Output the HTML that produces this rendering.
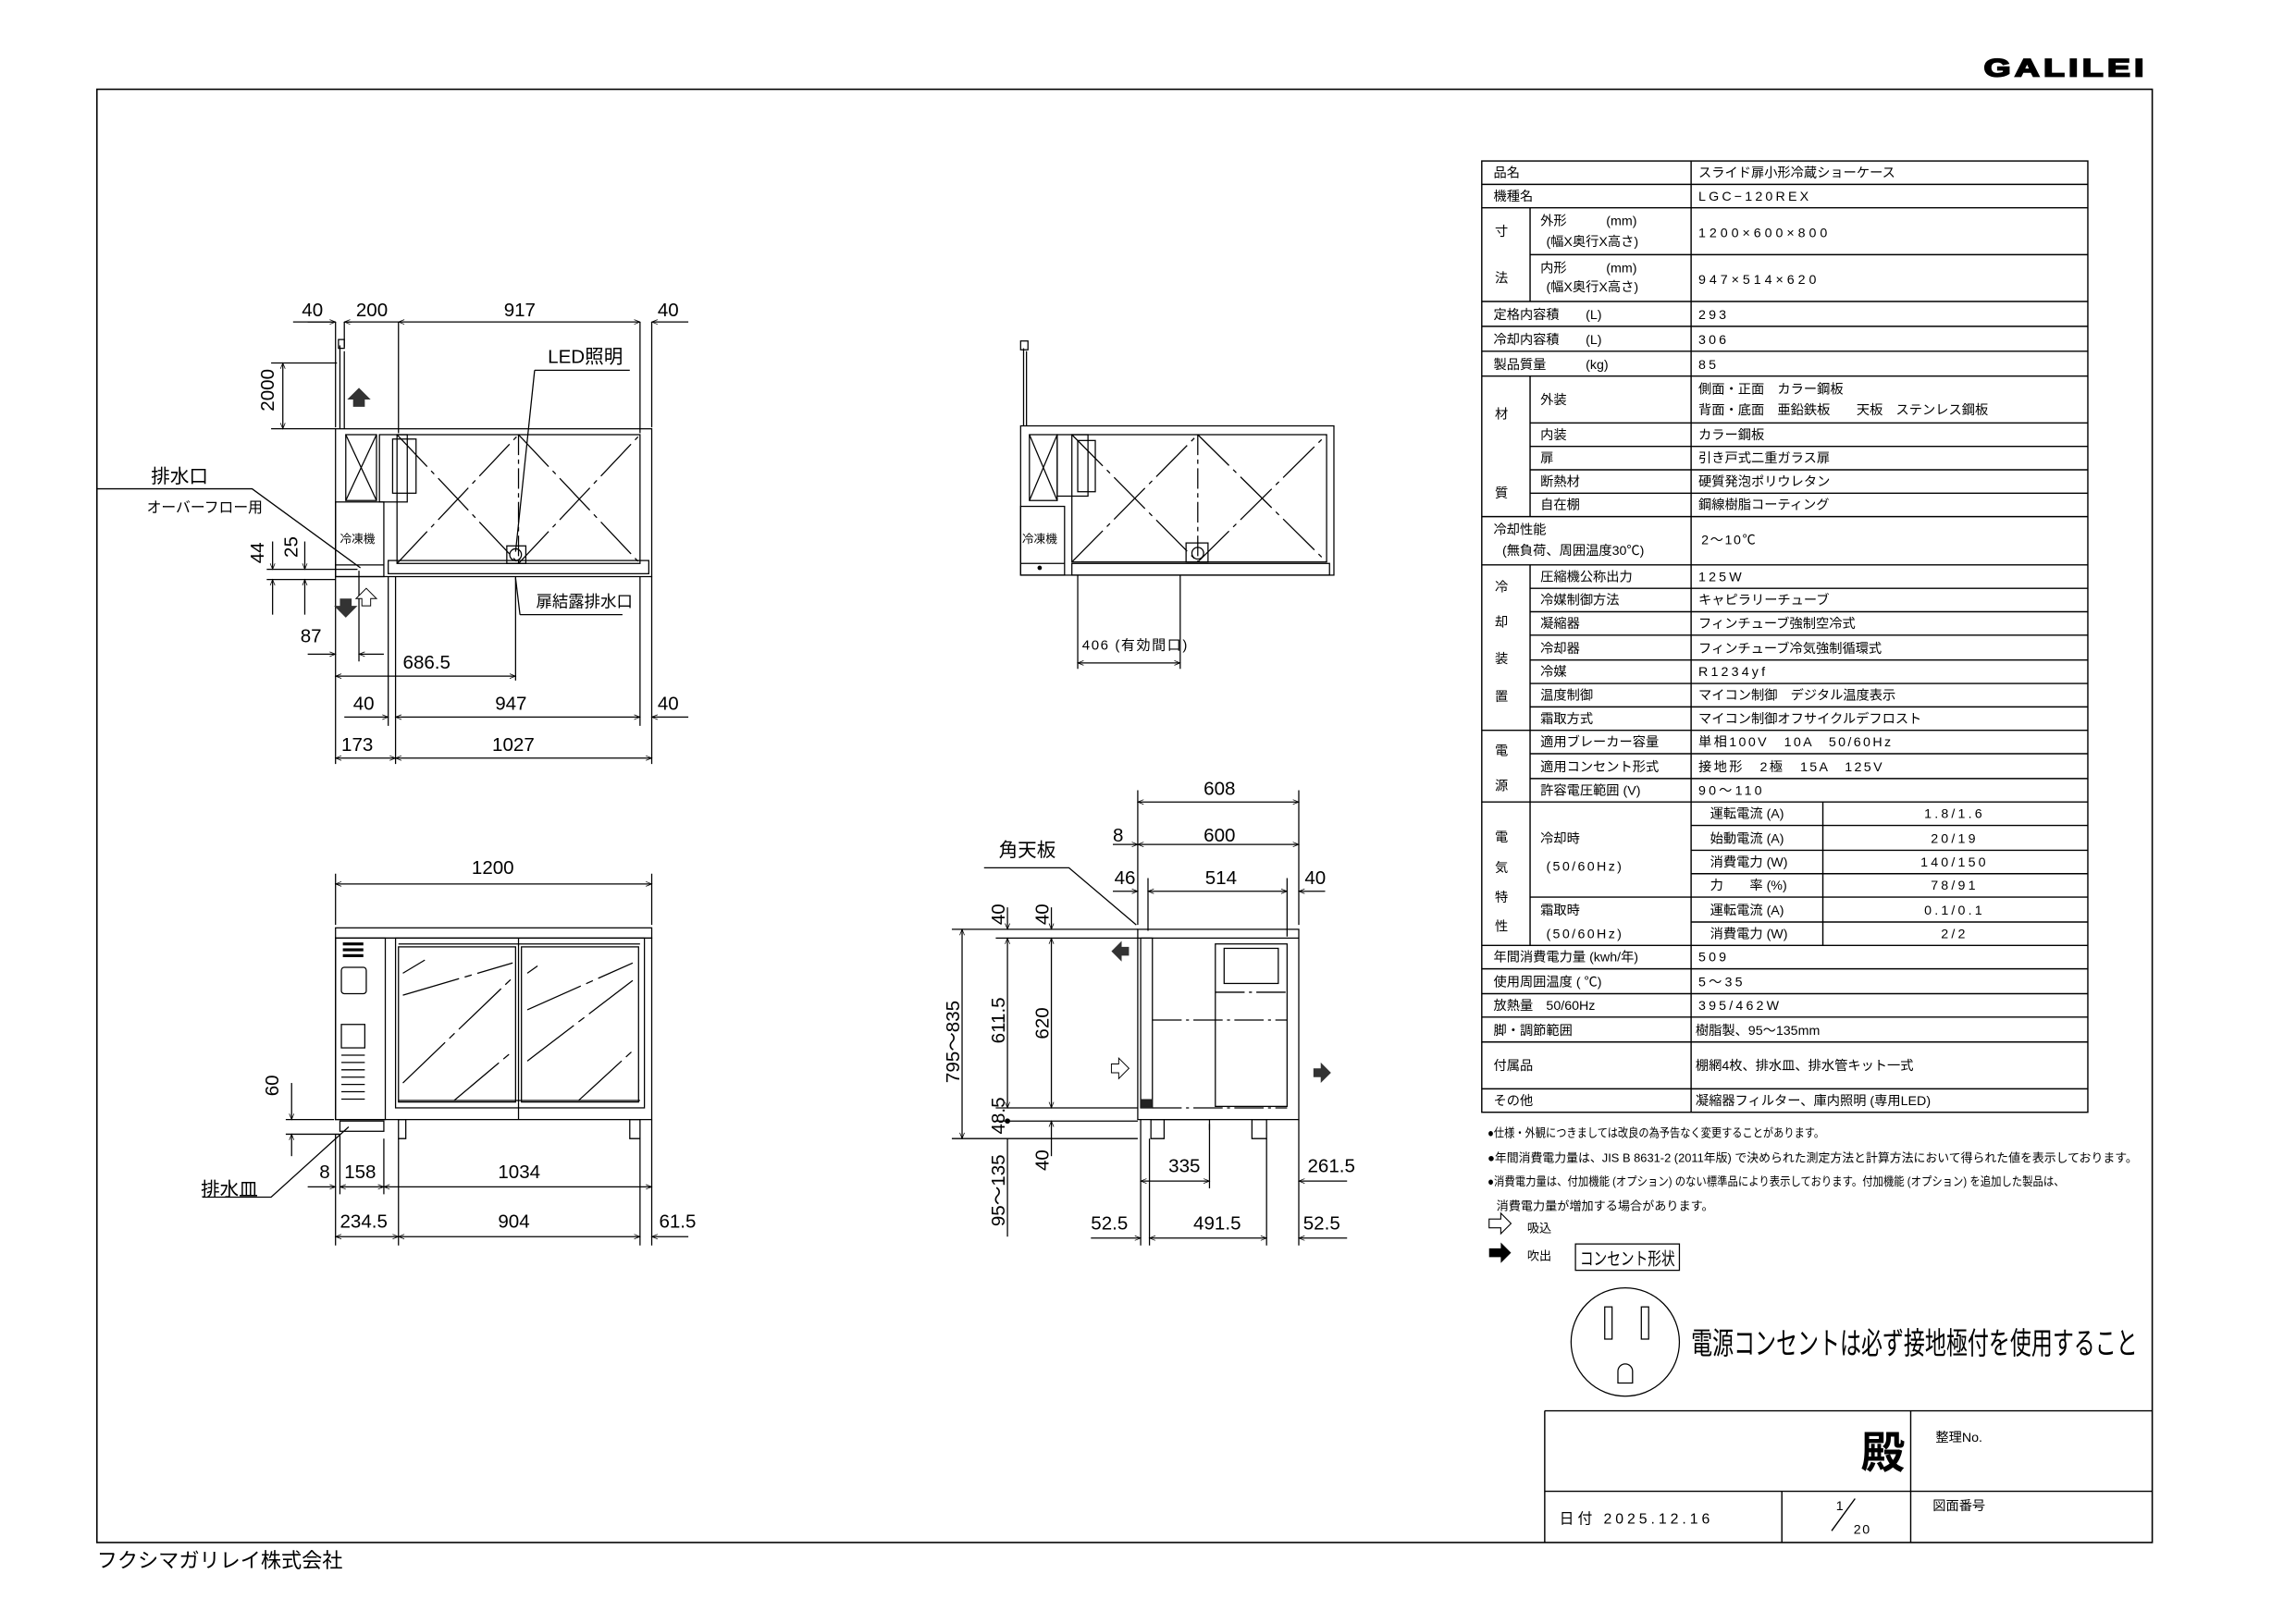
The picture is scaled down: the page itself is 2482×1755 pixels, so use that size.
<!DOCTYPE html>
<html><head><meta charset="utf-8">
<style>
html,body{margin:0;padding:0;background:#fff;}
svg{display:block;}
text{font-family:"Liberation Sans","Noto Sans CJK JP",sans-serif;fill:#000;}
.t{font-size:9px;}
.d{font-size:13px;}
.s{font-size:11px;}
</style></head>
<body>
<svg width="2482" height="1755" viewBox="0 0 1568 1109" xmlns="http://www.w3.org/2000/svg">
<defs>
<marker id="a" viewBox="0 0 10 10" refX="10" refY="5" markerWidth="7" markerHeight="5" orient="auto-start-reverse"><path d="M0,1 L10,5 L0,9" fill="none" stroke="#000" stroke-width="1.2"/></marker>
</defs>
<text x="1355" y="52" textLength="112" lengthAdjust="spacingAndGlyphs" style="font-size:17px;font-weight:bold;letter-spacing:2px;stroke:#000;stroke-width:1.1">GALILEI</text>
<rect x="66" y="61" width="1404" height="993" fill="none" stroke="#000" stroke-width="1"/>
<text x="66" y="1071" style="font-size:14px">フクシマガリレイ株式会社</text>

<g stroke="#000" stroke-width="0.9" fill="none">
<rect x="1012" y="110" width="414" height="650"/>
<line x1="1155" y1="110" x2="1155" y2="760"/>
<line x1="1045" y1="142" x2="1045" y2="206"/>
<line x1="1045" y1="257" x2="1045" y2="353"/>
<line x1="1045" y1="386" x2="1045" y2="646"/>
<line x1="1245" y1="548" x2="1245" y2="646"/>
<path d="M1012 126H1426M1012 142H1426M1045 174H1426M1012 206H1426M1012 223H1426M1012 240H1426M1012 257H1426M1045 289H1426M1045 305H1426M1045 321H1426M1045 337H1426M1012 353H1426M1012 386H1426M1045 402H1426M1045 418H1426M1045 434H1426M1045 451H1426M1045 467H1426M1045 483H1426M1012 499H1426M1045 515H1426M1045 532H1426M1012 548H1426M1155 564H1426M1155 581H1426M1155 597H1426M1045 613H1426M1155 630H1426M1012 646H1426M1012 662H1426M1012 679H1426M1012 695H1426M1012 712H1426M1012 744H1426"/>
</g>
<g class="t">
<text x="1020" y="121">品名</text><text x="1160" y="121">スライド扉小形冷蔵ショーケース</text>
<text x="1020" y="137">機種名</text><text x="1160" y="137" letter-spacing="2">LGC−120REX</text>
<text x="1021" y="161">寸</text><text x="1021" y="193">法</text>
<text x="1052" y="154">外形　　　(mm)</text><text x="1056" y="168">(幅X奥行X高さ)</text>
<text x="1160" y="162" letter-spacing="2.5">1200×600×800</text>
<text x="1052" y="186">内形　　　(mm)</text><text x="1056" y="199">(幅X奥行X高さ)</text>
<text x="1160" y="194" letter-spacing="2.5">947×514×620</text>
<text x="1020" y="218">定格内容積　　(L)</text><text x="1160" y="218" letter-spacing="2">293</text>
<text x="1020" y="235">冷却内容積　　(L)</text><text x="1160" y="235" letter-spacing="2">306</text>
<text x="1020" y="252">製品質量　　　(kg)</text><text x="1160" y="252" letter-spacing="2">85</text>
<text x="1021" y="286">材</text><text x="1021" y="340">質</text>
<text x="1052" y="276">外装</text><text x="1160" y="269">側面・正面　カラー鋼板</text><text x="1160" y="283">背面・底面　亜鉛鉄板　　天板　ステンレス鋼板</text>
<text x="1052" y="300">内装</text><text x="1160" y="300">カラー鋼板</text>
<text x="1052" y="316">扉</text><text x="1160" y="316">引き戸式二重ガラス扉</text>
<text x="1052" y="332">断熱材</text><text x="1160" y="332">硬質発泡ポリウレタン</text>
<text x="1052" y="348">自在棚</text><text x="1160" y="348">鋼線樹脂コーティング</text>
<text x="1020" y="365">冷却性能</text><text x="1026" y="379">(無負荷、周囲温度30℃)</text><text x="1162" y="372" letter-spacing="1">2～10℃</text>
<text x="1021" y="404">冷</text><text x="1021" y="428">却</text><text x="1021" y="453">装</text><text x="1021" y="479">置</text>
<text x="1052" y="397">圧縮機公称出力</text><text x="1160" y="397" letter-spacing="2">125W</text>
<text x="1052" y="413">冷媒制御方法</text><text x="1160" y="413">キャピラリーチューブ</text>
<text x="1052" y="429">凝縮器</text><text x="1160" y="429">フィンチューブ強制空冷式</text>
<text x="1052" y="446">冷却器</text><text x="1160" y="446">フィンチューブ冷気強制循環式</text>
<text x="1052" y="462">冷媒</text><text x="1160" y="462" letter-spacing="2">R1234yf</text>
<text x="1052" y="478">温度制御</text><text x="1160" y="478">マイコン制御　デジタル温度表示</text>
<text x="1052" y="494">霜取方式</text><text x="1160" y="494">マイコン制御オフサイクルデフロスト</text>
<text x="1021" y="516">電</text><text x="1021" y="540">源</text>
<text x="1052" y="510">適用ブレーカー容量</text><text x="1160" y="510" letter-spacing="1.5">単相100V　10A　50/60Hz</text>
<text x="1052" y="527">適用コンセント形式</text><text x="1160" y="527" letter-spacing="1.5">接地形　2極　15A　125V</text>
<text x="1052" y="543">許容電圧範囲 (V)</text><text x="1160" y="543" letter-spacing="2">90～110</text>
<text x="1021" y="575">電</text><text x="1021" y="596">気</text><text x="1021" y="616">特</text><text x="1021" y="636">性</text>
<text x="1052" y="576">冷却時</text><text x="1056" y="595" letter-spacing="1.5">(50/60Hz)</text>
<text x="1052" y="625">霜取時</text><text x="1056" y="641" letter-spacing="1.5">(50/60Hz)</text>
<text x="1168" y="559">運転電流 (A)</text><text x="1335" y="559" text-anchor="middle" letter-spacing="2">1.8/1.6</text>
<text x="1168" y="576">始動電流 (A)</text><text x="1335" y="576" text-anchor="middle" letter-spacing="2">20/19</text>
<text x="1168" y="592">消費電力 (W)</text><text x="1335" y="592" text-anchor="middle" letter-spacing="2">140/150</text>
<text x="1168" y="608">力　　率 (%)</text><text x="1335" y="608" text-anchor="middle" letter-spacing="2">78/91</text>
<text x="1168" y="625">運転電流 (A)</text><text x="1335" y="625" text-anchor="middle" letter-spacing="2">0.1/0.1</text>
<text x="1168" y="641">消費電力 (W)</text><text x="1335" y="641" text-anchor="middle" letter-spacing="2">2/2</text>
<text x="1020" y="657">年間消費電力量 (kwh/年)</text><text x="1160" y="657" letter-spacing="2">509</text>
<text x="1020" y="674">使用周囲温度 ( ℃)</text><text x="1160" y="674" letter-spacing="2">5～35</text>
<text x="1020" y="690">放熱量　50/60Hz</text><text x="1160" y="690" letter-spacing="2">395/462W</text>
<text x="1020" y="707">脚・調節範囲</text><text x="1158" y="707">樹脂製、95～135mm</text>
<text x="1020" y="731">付属品</text><text x="1158" y="731">棚網4枚、排水皿、排水管キット一式</text>
<text x="1020" y="755">その他</text><text x="1158" y="755">凝縮器フィルター、庫内照明 (専用LED)</text>
</g>
<g style="font-size:8.3px">
<text x="1016" y="777" textLength="230" lengthAdjust="spacingAndGlyphs">●仕様・外観につきましては改良の為予告なく変更することがあります。</text>
<text x="1016" y="794" textLength="444" lengthAdjust="spacingAndGlyphs">●年間消費電力量は、JIS B 8631-2 (2011年版) で決められた測定方法と計算方法において得られた値を表示しております。</text>
<text x="1016" y="810" textLength="394" lengthAdjust="spacingAndGlyphs">●消費電力量は、付加機能 (オプション) のない標準品により表示しております。付加機能 (オプション) を追加した製品は、</text>
<text x="1022" y="827">消費電力量が増加する場合があります。</text>
<text x="1043" y="842">吸込</text><text x="1043" y="861">吹出</text>
</g>
<path d="M1017 833h8v-4l7 7-7 7v-4h-8z" fill="#fff" stroke="#000" stroke-width="0.7"/>
<path d="M1017 853h8v-4l7 7-7 7v-4h-8z" fill="#000"/>
<rect x="1076" y="850" width="71" height="18" fill="none" stroke="#000" stroke-width="0.8"/>
<text x="1079" y="864" textLength="65" lengthAdjust="spacingAndGlyphs" style="font-size:12px">コンセント形状</text>
<circle cx="1110" cy="917" r="37" fill="none" stroke="#000" stroke-width="0.8"/>
<rect x="1096" y="893" width="5" height="22" fill="none" stroke="#000" stroke-width="0.8"/>
<rect x="1121" y="893" width="5" height="22" fill="none" stroke="#000" stroke-width="0.8"/>
<path d="M1105 945v-8a5 5 0 0 1 10 0v8z" fill="none" stroke="#000" stroke-width="0.8"/>
<text x="1155" y="925" textLength="305" lengthAdjust="spacingAndGlyphs" style="font-size:21px">電源コンセントは必ず接地極付を使用すること</text>
<g stroke="#000" stroke-width="0.9" fill="none">
<path d="M1055 964H1470M1055 964V1054M1055 1019H1470M1305 964V1054M1217 1019V1054M1251 1046l16-22"/>
</g>
<text x="1271" y="1003" style="font-size:30px;font-weight:bold">殿</text>
<text x="1322" y="985" class="t">整理No.</text>
<text x="1320" y="1032" class="t">図面番号</text>
<text x="1065" y="1041" class="t" letter-spacing="2.5" style="font-size:10px">日付 2025.12.16</text>
<text x="1254" y="1032" class="t">1</text><text x="1266" y="1048" class="t" letter-spacing="1">20</text>

<g stroke="#000" stroke-width="0.8" fill="none">
<rect x="229" y="293" width="216" height="101"/>
<rect x="236" y="297" width="21" height="45"/><path d="M236 297L257 342M257 297L236 342"/>
<rect x="259" y="297" width="19" height="46"/><rect x="268" y="300" width="16" height="37"/>
<rect x="271" y="297" width="166" height="88"/>
<line x1="354" y1="297" x2="354" y2="385" stroke-dasharray="14 3 3 3"/>
<path d="M271 385L354 297M271 297L354 385M354 297L437 385M354 385L437 297" stroke-dasharray="30 4 3 4"/>
<rect x="346" y="373" width="13" height="12"/><circle cx="352" cy="379" r="4"/>
<rect x="229" y="343" width="33" height="51"/><line x1="229" y1="386" x2="262" y2="386"/>
<rect x="265" y="383" width="178" height="9"/>
<path d="M232 293V236M235 293V240"/><rect x="231" y="232" width="4" height="6"/>
<path d="M229 220V292M235 220V237M272 220V296M437 220V296M445 220V292"/>
<path d="M200 220H229M240 220H235"/>
<line x1="272" y1="220" x2="437" y2="220" marker-start="url(#a)" marker-end="url(#a)"/>
<line x1="235" y1="220" x2="272" y2="220" marker-start="url(#a)"/>
<line x1="470" y1="220" x2="445" y2="220" marker-end="url(#a)"/>
<line x1="210" y1="220" x2="229" y2="220" marker-end="url(#a)"/>
<path d="M185 248H230M185 293H229"/>
<line x1="193" y1="248" x2="193" y2="293" marker-start="url(#a)" marker-end="url(#a)"/>
<path d="M365 253H430M365 253L352 377"/>
<path d="M66 334H172L246 388"/>
<path d="M182 389H244M182 396H229"/>
<line x1="186" y1="370" x2="186" y2="389" marker-end="url(#a)"/><line x1="186" y1="420" x2="186" y2="396" marker-end="url(#a)"/>
<line x1="208" y1="370" x2="208" y2="389" marker-end="url(#a)"/><line x1="208" y1="420" x2="208" y2="396" marker-end="url(#a)"/>
<path d="M229 394V522M265 394V496M270 394V522M445 394V522M352 394V465M245 390V452M437 394V496"/>
<line x1="210" y1="447" x2="229" y2="447" marker-end="url(#a)"/><line x1="262" y1="447" x2="245" y2="447" marker-end="url(#a)"/>
<line x1="229" y1="462" x2="352" y2="462" marker-start="url(#a)" marker-end="url(#a)"/>
<line x1="235" y1="490" x2="265" y2="490" marker-end="url(#a)"/>
<line x1="270" y1="490" x2="437" y2="490" marker-start="url(#a)" marker-end="url(#a)"/>
<line x1="470" y1="490" x2="445" y2="490" marker-end="url(#a)"/>
<line x1="229" y1="518" x2="270" y2="518" marker-start="url(#a)" marker-end="url(#a)"/>
<line x1="270" y1="518" x2="445" y2="518" marker-start="url(#a)" marker-end="url(#a)"/>
<path d="M355 420H425M355 420L352 395"/>
</g>
<path d="M241 278v-5h-4l8-8 8 8h-4v5z" fill="#333"/>
<path d="M232 409v5h-4l8 8 8-8h-4v-5z" fill="#333"/>
<path d="M247 414v-5h-4l7-7 7 7h-4v5z" fill="#fff" stroke="#000" stroke-width="0.6"/>
<g class="d">
<text x="206" y="216">40</text><text x="243" y="216">200</text><text x="344" y="216">917</text><text x="449" y="216">40</text>
<text x="187" y="281" transform="rotate(-90 187 281)">2000</text>
<text x="374" y="248">LED照明</text>
<text x="103" y="330">排水口</text>
<text x="100" y="350" style="font-size:10px">オーバーフロー用</text>
<text x="180" y="385" transform="rotate(-90 180 385)">44</text>
<text x="203" y="381" transform="rotate(-90 203 381)">25</text>
<text x="205" y="439">87</text>
<text x="275" y="457">686.5</text>
<text x="241" y="485">40</text><text x="338" y="485">947</text><text x="449" y="485">40</text>
<text x="233" y="513">173</text><text x="336" y="513">1027</text>
<text x="366" y="415" style="font-size:11px">扉結露排水口</text>
<text x="232" y="371" style="font-size:8px">冷凍機</text>
</g>

<g stroke="#000" stroke-width="0.8" fill="none">
<rect x="697" y="291" width="214" height="102"/>
<rect x="703" y="297" width="19" height="45"/><path d="M703 297L722 342M722 297L703 342"/>
<rect x="722" y="297" width="21" height="42"/><rect x="736" y="301" width="12" height="35"/>
<rect x="732" y="297" width="174" height="87"/>
<line x1="818" y1="297" x2="818" y2="384" stroke-dasharray="14 3 3 3"/>
<path d="M732 384L818 297M732 297L818 384M818 297L906 384M818 384L906 297" stroke-dasharray="30 4 3 4"/>
<rect x="810" y="371" width="15" height="13"/><circle cx="818" cy="378" r="4"/>
<rect x="697" y="346" width="30" height="47"/><line x1="697" y1="385" x2="727" y2="385"/>
<rect x="732" y="385" width="176" height="8"/>
<path d="M699 291V238M701 291V240"/><rect x="697" y="233" width="5" height="6"/>
<path d="M736 393V457M806 393V457"/>
<line x1="736" y1="453" x2="806" y2="453" marker-start="url(#a)" marker-end="url(#a)"/>
</g>
<circle cx="710" cy="388" r="1.5"/>
<text x="739" y="444" style="font-size:9.5px" letter-spacing="1">406 (有効間口)</text>
<text x="698" y="371" style="font-size:8px">冷凍機</text>

<g stroke="#000" stroke-width="0.8" fill="none">
<path d="M229 597V632M445 597V632"/>
<line x1="229" y1="604" x2="445" y2="604" marker-start="url(#a)" marker-end="url(#a)"/>
<rect x="229" y="634" width="216" height="7"/>
<rect x="229" y="641" width="216" height="124"/>
<rect x="229" y="641" width="34" height="124"/>
<rect x="233" y="661" width="17" height="18" rx="2"/>
<rect x="233" y="700" width="16" height="16"/>
<path d="M233 721h16M233 726h16M233 731h16M233 736h16M233 741h16M233 746h16M233 751h16"/>
<rect x="270" y="641" width="170" height="116"/>
<rect x="272" y="647" width="80" height="106"/><rect x="356" y="647" width="80" height="106"/>
<line x1="354" y1="641" x2="354" y2="765"/>
<path d="M272 752H437M272 645H437"/>
<path d="M275 665L290 656M275 680L350 658M275 740L350 668M310 752L348 720M360 665L367 660M360 690L432 658M360 725L432 670M395 752L432 718" stroke-dasharray="40 4 5 4"/>
<path d="M272 765H277V778H272zM430 765H437V778H430z"/>
<rect x="232" y="766" width="30" height="7"/>
<path d="M195 765H228M195 775H232"/>
<line x1="199" y1="740" x2="199" y2="765" marker-end="url(#a)"/><line x1="199" y1="790" x2="199" y2="775" marker-end="url(#a)"/>
<path d="M138 818H185L238 770"/>
<path d="M229 775V851M232 775V816M262 778V816M272 778V851M437 778V851M445 765V851"/>
<line x1="210" y1="811" x2="229" y2="811" marker-end="url(#a)"/>
<line x1="232" y1="811" x2="262" y2="811" marker-start="url(#a)" marker-end="url(#a)"/>
<line x1="262" y1="811" x2="445" y2="811" marker-start="url(#a)" marker-end="url(#a)"/>
<line x1="229" y1="845" x2="272" y2="845" marker-start="url(#a)" marker-end="url(#a)"/>
<line x1="272" y1="845" x2="437" y2="845" marker-start="url(#a)" marker-end="url(#a)"/>
<line x1="470" y1="845" x2="445" y2="845" marker-end="url(#a)"/>
</g>
<rect x="234" y="644" width="14" height="2" fill="#000"/><rect x="234" y="648" width="14" height="2" fill="#000"/><rect x="234" y="652" width="14" height="2" fill="#000"/>
<g class="d">
<text x="322" y="597">1200</text>
<text x="190" y="749" transform="rotate(-90 190 749)">60</text>
<text x="137" y="817">排水皿</text>
<text x="218" y="805">8</text><text x="235" y="805">158</text><text x="340" y="805">1034</text>
<text x="232" y="839">234.5</text><text x="340" y="839">904</text><text x="450" y="839">61.5</text>
</g>

<g stroke="#000" stroke-width="0.8" fill="none">
<path d="M777 540V632M887 540V632M784 600V636M879 600V640"/>
<line x1="777" y1="548" x2="887" y2="548" marker-start="url(#a)" marker-end="url(#a)"/>
<line x1="760" y1="577" x2="777" y2="577" marker-end="url(#a)"/>
<line x1="777" y1="577" x2="887" y2="577" marker-start="url(#a)" marker-end="url(#a)"/>
<line x1="760" y1="609" x2="777" y2="609" marker-end="url(#a)"/>
<line x1="784" y1="609" x2="879" y2="609" marker-start="url(#a)" marker-end="url(#a)"/>
<line x1="905" y1="609" x2="887" y2="609" marker-end="url(#a)"/>
<path d="M672 593H730L776 632"/>
<rect x="777" y="635" width="110" height="130"/>
<line x1="777" y1="641" x2="887" y2="641"/>
<rect x="779" y="641" width="8" height="116"/>
<rect x="830" y="645" width="49" height="111"/>
<rect x="836" y="648" width="37" height="24"/>
<path d="M830 678H879M787 697H879M787 757H879" stroke-dasharray="20 3 2 3"/>
<path d="M786 765H795V778H786zM855 765H865V778H855zM795 765H826V772"/>
<path d="M650 635H777M680 641H777M680 757H777M680 766H777M650 778H777"/>
<line x1="657" y1="635" x2="657" y2="778" marker-start="url(#a)" marker-end="url(#a)"/>
<line x1="688" y1="620" x2="688" y2="635" marker-end="url(#a)"/>
<line x1="688" y1="641" x2="688" y2="757" marker-start="url(#a)" marker-end="url(#a)"/>
<line x1="688" y1="778" x2="688" y2="845"/>
<line x1="718" y1="620" x2="718" y2="635" marker-end="url(#a)"/>
<line x1="718" y1="641" x2="718" y2="757" marker-start="url(#a)" marker-end="url(#a)"/>
<line x1="718" y1="790" x2="718" y2="766" marker-end="url(#a)"/>
<path d="M779 765V851M785 778V851M826 768V812M865 778V851M887 765V851"/>
<line x1="779" y1="807" x2="826" y2="807" marker-start="url(#a)" marker-end="url(#a)"/>
<line x1="920" y1="807" x2="887" y2="807" marker-end="url(#a)"/>
<line x1="745" y1="846" x2="779" y2="846" marker-end="url(#a)"/>
<line x1="785" y1="846" x2="865" y2="846" marker-start="url(#a)" marker-end="url(#a)"/>
<line x1="920" y1="846" x2="887" y2="846" marker-end="url(#a)"/>
</g>
<circle cx="688" cy="766" r="1.8"/>
<rect x="779" y="751" width="8" height="6" fill="#222"/>
<path d="M771 646v4h-5v-4l-7 7 7 7v-4h5v4z" fill="#333" transform="translate(0,-3)"/>
<path d="M759 727h5v-4l7 7-7 7v-4h-5z" fill="#fff" stroke="#000" stroke-width="0.6"/>
<path d="M897 730h5v-4l7 7-7 7v-4h-5z" fill="#333"/>
<g class="d">
<text x="822" y="543">608</text>
<text x="760" y="575">8</text><text x="822" y="575">600</text>
<text x="761" y="604">46</text><text x="823" y="604">514</text><text x="891" y="604">40</text>
<text x="682" y="585">角天板</text>
<text x="655" y="740" transform="rotate(-90 655 740)">795～835</text>
<text x="686" y="632" transform="rotate(-90 686 632)">40</text>
<text x="716" y="632" transform="rotate(-90 716 632)">40</text>
<text x="686" y="713" transform="rotate(-90 686 713)">611.5</text>
<text x="716" y="710" transform="rotate(-90 716 710)">620</text>
<text x="686" y="775" transform="rotate(-90 686 775)">48.5</text>
<text x="686" y="838" transform="rotate(-90 686 838)">95～135</text>
<text x="716" y="800" transform="rotate(-90 716 800)">40</text>
<text x="798" y="801">335</text><text x="893" y="801">261.5</text>
<text x="745" y="840">52.5</text><text x="815" y="840">491.5</text><text x="890" y="840">52.5</text>
</g>
</svg>
</body></html>
